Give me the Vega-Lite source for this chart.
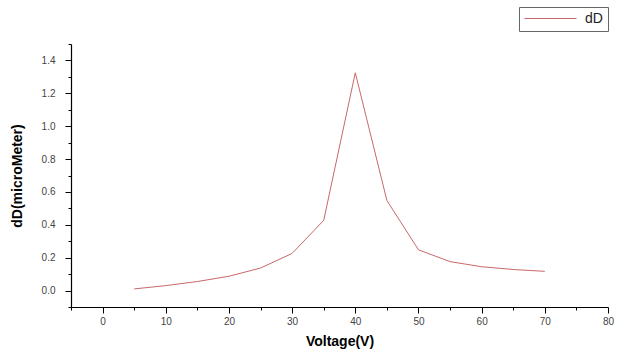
{
  "$schema": "https://vega.github.io/schema/vega-lite/v6.json",
  "width": 537,
  "height": 263,
  "autosize": {"type": "none"},
  "padding": {"left": 71, "top": 44, "right": 12, "bottom": 44},
  "background": "white",
  "config": {
    "view": {"stroke": null},
    "font": "Liberation Sans",
    "axis": {
      "grid": false,
      "domainColor": "#000000",
      "domainWidth": 1.2,
      "tickColor": "#000000",
      "tickWidth": 1,
      "labelColor": "#444444",
      "labelFont": "Liberation Sans",
      "labelFontSize": 10,
      "titleFont": "Liberation Sans",
      "titleFontWeight": "bold",
      "titleFontSize": 14,
      "titleColor": "#000000"
    }
  },
  "data": {
    "values": [
      {"voltage": 5, "dD": 0.01, "series": "dD"},
      {"voltage": 10, "dD": 0.03, "series": "dD"},
      {"voltage": 15, "dD": 0.055, "series": "dD"},
      {"voltage": 20, "dD": 0.087, "series": "dD"},
      {"voltage": 25, "dD": 0.137, "series": "dD"},
      {"voltage": 30, "dD": 0.226, "series": "dD"},
      {"voltage": 35, "dD": 0.427, "series": "dD"},
      {"voltage": 40, "dD": 1.325, "series": "dD"},
      {"voltage": 45, "dD": 0.548, "series": "dD"},
      {"voltage": 50, "dD": 0.248, "series": "dD"},
      {"voltage": 55, "dD": 0.176, "series": "dD"},
      {"voltage": 60, "dD": 0.145, "series": "dD"},
      {"voltage": 65, "dD": 0.128, "series": "dD"},
      {"voltage": 70, "dD": 0.117, "series": "dD"}
    ]
  },
  "mark": {"type": "line", "strokeWidth": 1, "clip": true},
  "encoding": {
    "x": {
      "field": "voltage",
      "type": "quantitative",
      "scale": {"domain": [-5, 80], "nice": false, "zero": false},
      "axis": {
        "title": "Voltage(V)",
        "values": [-5, 0, 5, 10, 15, 20, 25, 30, 35, 40, 45, 50, 55, 60, 65, 70, 75, 80],
        "labelExpr": "datum.value % 10 == 0 && datum.value >= 0 ? format(datum.value, 'd') : ''",
        "tickSize": {"condition": {"test": "datum.value % 10 != 0", "value": 3}, "value": 6},
        "labelPadding": 3,
        "titlePadding": 8,
        "labelFlush": false,
        "labelOverlap": false
      }
    },
    "y": {
      "field": "dD",
      "type": "quantitative",
      "scale": {"domain": [-0.1, 1.5], "nice": false, "zero": false},
      "axis": {
        "title": "dD(microMeter)",
        "values": [-0.1, 0, 0.1, 0.2, 0.3, 0.4, 0.5, 0.6, 0.7, 0.8, 0.9, 1.0, 1.1, 1.2, 1.3, 1.4, 1.5],
        "labelExpr": "round(datum.value * 10) % 2 == 0 && datum.value > -0.05 && datum.value < 1.45 ? format(datum.value, '.1f') : ''",
        "tickSize": {"condition": {"test": "round(datum.value * 10) % 2 != 0", "value": 3}, "value": 6},
        "labelPadding": 10,
        "titlePadding": 17,
        "labelFlush": false,
        "labelOverlap": false
      }
    },
    "stroke": {
      "field": "series",
      "type": "nominal",
      "scale": {"range": ["#c8686a"]},
      "legend": {
        "title": null,
        "orient": "none",
        "legendX": 448,
        "legendY": -37,
        "symbolType": "stroke",
        "symbolSize": 2704,
        "symbolStrokeWidth": 1,
        "clipHeight": 13,
        "labelFontSize": 14,
        "labelOffset": 8,
        "labelColor": "#222222",
        "labelFont": "Liberation Sans",
        "strokeColor": "#666666",
        "padding": 5,
        "fillColor": "white"
      }
    }
  }
}
